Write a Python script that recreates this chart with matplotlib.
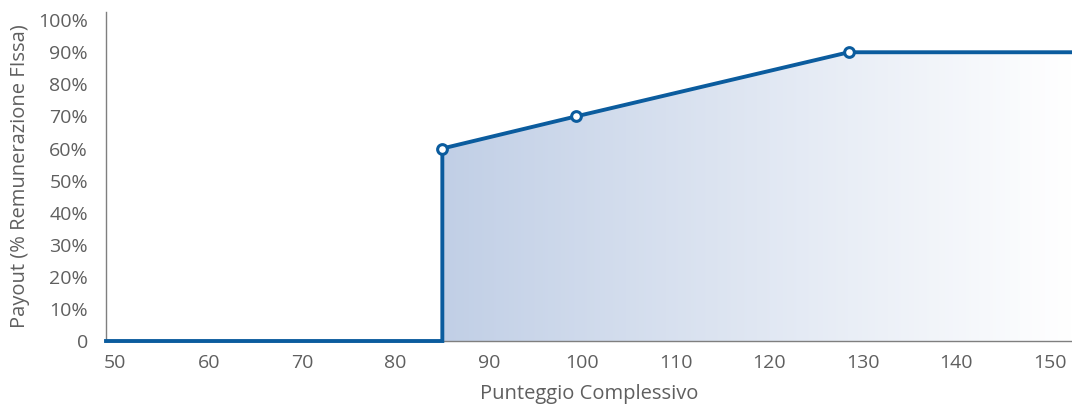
import matplotlib.pyplot as plt
import numpy as np
from matplotlib.patches import Polygon
from matplotlib.colors import LinearSegmentedColormap

plt.rcParams['font.family'] = ['Open Sans', 'DejaVu Sans']

# payout curve
score = [49, 85, 85, 99.3, 128.5, 152.4]
payout = [0, 0, 60, 70, 90, 90]
marked = [2, 3, 4]

xticks = [50, 60, 70, 80, 90, 100, 110, 120, 130, 140, 150]
yticks = [0, 10, 20, 30, 40, 50, 60, 70, 80, 90, 100]
ylabels = ["0"] + [str(v) + "%" for v in yticks[1:]]

lc = "#0b5c9e"
tc = "#5f5f5f"

fig = plt.figure(figsize=(10.72, 4.05), dpi=100)
ax = fig.add_axes([0.0989, 0.158, 0.9011, 0.812])
ax.set_xlim(49, 152.4)
ax.set_ylim(0, 102.5)

# gradient fill under the curve
sx = np.array(score[2:])
sy = np.array(payout[2:])
verts = [(sx[0], 0)] + list(zip(sx, sy)) + [(sx[-1], 0)]
poly = Polygon(verts, closed=True, facecolor='none', edgecolor='none')
ax.add_patch(poly)
cmap = LinearSegmentedColormap.from_list("fade", ["#c1cfe6", "#ffffff"])
grad = np.linspace(0, 1, 256).reshape(1, -1)
im = ax.imshow(grad, cmap=cmap, aspect='auto', extent=[sx[0], sx[-1], 0, 100],
               origin='lower', zorder=1)
im.set_clip_path(poly)

ax.plot(score, payout, color=lc, lw=2.8, zorder=3, clip_on=False,
        solid_joinstyle='miter')
ax.plot([score[i] for i in marked], [payout[i] for i in marked], 'o',
        color=lc, markerfacecolor='white', markersize=7, mew=2.2, zorder=4)

for s in ['top', 'right']:
    ax.spines[s].set_visible(False)
for s in ['left', 'bottom']:
    ax.spines[s].set_color("#7f7f7f")
    ax.spines[s].set_linewidth(1.0)

ax.set_xticks(xticks)
ax.set_yticks(yticks)
ax.set_yticklabels(ylabels)
ax.tick_params(length=0, labelsize=14, labelcolor=tc, pad=9)
ax.tick_params(axis='y', pad=13)

ax.set_xlabel("Punteggio Complessivo", fontsize=14.5, color=tc, labelpad=9)
ax.set_ylabel("Payout (% Remunerazione FIssa)", fontsize=14.5, color=tc, labelpad=6)

plt.savefig('out.png', dpi=100)
